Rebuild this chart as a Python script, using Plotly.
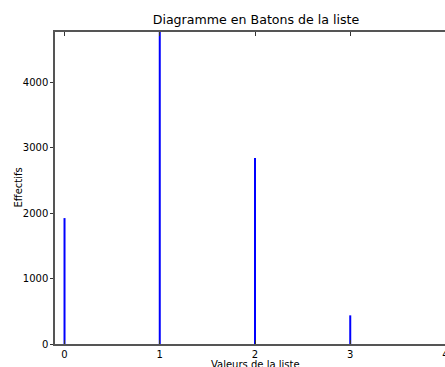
import plotly.graph_objects as go

valeurs = [0, 1, 2, 3]
effectifs = [1925, 4770, 2845, 438]
x_ticks = [0, 1, 2, 3, 4]
y_ticks = [0, 1000, 2000, 3000, 4000]
x_label = "Valeurs de la liste"
y_label = "Effectifs"

font = "DejaVu Sans"
W, H = 460, 367
fig = go.Figure()
fig.add_trace(go.Bar(x=valeurs, y=effectifs, width=0.021,
                     marker=dict(color="#0000ff", line=dict(width=0))))

fig.update_layout(
    width=W, height=H,
    margin=dict(l=55, r=5, t=32, b=23),
    plot_bgcolor="white", paper_bgcolor="white",
    showlegend=False,
    font=dict(family=font, size=10, color="black"),
    title=dict(text="Diagramme en Batons de la liste", x=256/W, xref="container",
               xanchor="center", y=1-20/H, yanchor="middle",
               font=dict(family=font, size=12.6, color="black")),
    xaxis=dict(range=[-0.1, 4.1], tickmode="array", tickvals=x_ticks,
               ticktext=[str(v) for v in x_ticks], automargin=False,
               showgrid=False, zeroline=False, showline=True, linecolor="#555",
               linewidth=1.5, mirror="ticks", ticks="inside", ticklen=4,
               tickcolor="#333", tickwidth=1),
    yaxis=dict(range=[0, 4770], tickmode="array", tickvals=y_ticks,
               automargin=False,
               showgrid=False, zeroline=False, showline=True, linecolor="#555",
               linewidth=1.5, mirror="ticks", ticks="outside", ticklen=3,
               tickcolor="#333", tickwidth=1),
)
fig.add_annotation(text=x_label, xref="paper", yref="paper", x=0.5, y=0,
                   yshift=-20, xanchor="center", yanchor="middle",
                   showarrow=False, font=dict(family=font, size=10, color="black"))
fig.add_annotation(text=y_label, xref="paper", yref="paper", x=0, y=0.5,
                   xshift=-37.5, xanchor="center", yanchor="middle", textangle=-90,
                   showarrow=False, font=dict(family=font, size=10, color="black"))
fig.write_html("out.html", config={"displayModeBar": False},
               post_script="document.body.style.margin='0';"
                           "document.documentElement.style.overflow='hidden';")
